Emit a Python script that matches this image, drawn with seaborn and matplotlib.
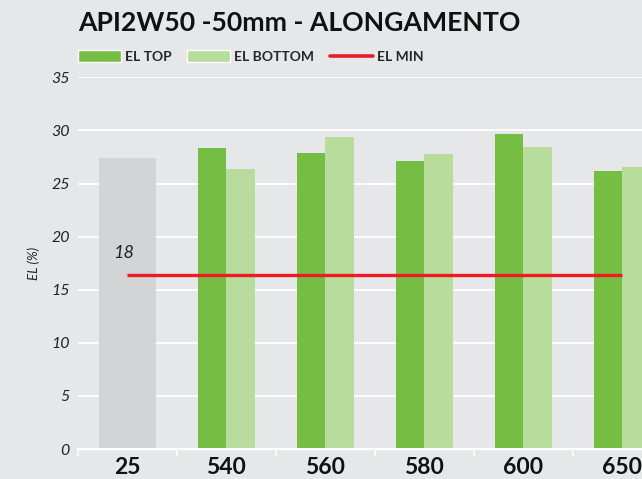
import numpy as np
import pandas as pd
import matplotlib
matplotlib.use("Agg")
import matplotlib.pyplot as plt
import seaborn as sns
from matplotlib.patches import Patch
from matplotlib.lines import Line2D

# values
categories = ["25", "540", "560", "580", "600", "650"]
ref_category = "25"
ref_value = 27.4
el_top = [28.3, 27.9, 27.1, 29.7, 26.2]
el_bottom = [26.4, 29.4, 27.75, 28.4, 26.6]
el_min = 16.4
el_min_label = "18"
series = ["EL TOP", "EL BOTTOM"]

c_top = "#76bd43"
c_bottom = "#b8dc9b"
c_ref = "#d3d4d6"
c_min = "#ec1c24"
c_bg = "#e6e7e8"

sns.set_theme(style="darkgrid", rc={"axes.facecolor": c_bg, "figure.facecolor": c_bg,
                                    "grid.color": "white", "grid.linewidth": 1.3})
plt.rcParams["font.family"] = ["Lato", "DejaVu Sans"]

grades = categories[1:]
df = pd.DataFrame({
    "grade": grades * 2,
    "serie": [series[0]] * len(grades) + [series[1]] * len(grades),
    "el": el_top + el_bottom,
})
df_ref = pd.DataFrame({"grade": [ref_category], "el": [ref_value]})

fig = plt.figure(figsize=(6.42, 4.79), dpi=100)
ax = fig.add_axes([0.1215, 0.0626, 0.925, 0.776])

sns.barplot(data=df_ref, x="grade", y="el", order=categories, color=c_ref,
            width=0.57, saturation=1, linewidth=0, ax=ax, zorder=2)
sns.barplot(data=df, x="grade", y="el", hue="serie", order=categories, hue_order=series,
            palette=[c_top, c_bottom], width=0.57, saturation=1, dodge=True,
            linewidth=0, ax=ax, legend=False, zorder=2)

# minimum line from first to last category
ax.hlines(el_min, 0, len(categories) - 1, color=c_min, linewidth=2.4, zorder=3)
ax.text(-0.04, el_min + 1.3, el_min_label, fontsize=13, fontstyle="italic",
        ha="center", va="bottom", color="#222222")

ax.set_xlim(-0.5, len(categories) - 0.5)
ax.set_ylim(0, 35)
ax.set_yticks(np.arange(0, 36, 5))
ax.set_yticklabels([str(v) for v in range(0, 36, 5)], fontstyle="italic", fontsize=11.5,
                   color="#222222")
ax.tick_params(axis="y", pad=6, length=0)
ax.set_xticks(range(len(categories)))
ax.set_xticklabels(categories, fontsize=16.5, fontweight="bold", color="#111111")
ax.set_xticks(np.arange(-0.5, len(categories), 1), minor=True)
ax.tick_params(axis="x", which="major", length=0, pad=6)
ax.tick_params(axis="x", which="minor", length=5, width=1.2, color="white", bottom=True)
ax.grid(axis="x", visible=False)
ax.grid(axis="x", which="minor", visible=False)
ax.set_xlabel("")
ax.set_ylabel("EL (%)", fontsize=9.5, fontstyle="italic", labelpad=8)
for side in ["top", "right", "left"]:
    ax.spines[side].set_visible(False)
ax.spines["bottom"].set_visible(True)
ax.spines["bottom"].set_color("white")
ax.spines["bottom"].set_linewidth(1.5)

fig.text(0.1215, 0.952, "API2W50 -50mm - ALONGAMENTO", fontsize=19.2, fontweight="bold",
         ha="left", va="center", color="#111111")

handles = [Patch(facecolor=c_top), Patch(facecolor=c_bottom),
           Line2D([], [], color=c_min, linewidth=2.6)]
fig.legend(handles, ["EL TOP", "EL BOTTOM", "EL MIN"], loc="center left",
           bbox_to_anchor=(0.113, 0.882), ncol=3, frameon=False,
           prop={"weight": "bold", "size": 10}, handlelength=3.1, handleheight=0.95,
           handletextpad=0.3, columnspacing=1.1, borderaxespad=0)

fig.savefig("out.png", dpi=100, facecolor=c_bg)
